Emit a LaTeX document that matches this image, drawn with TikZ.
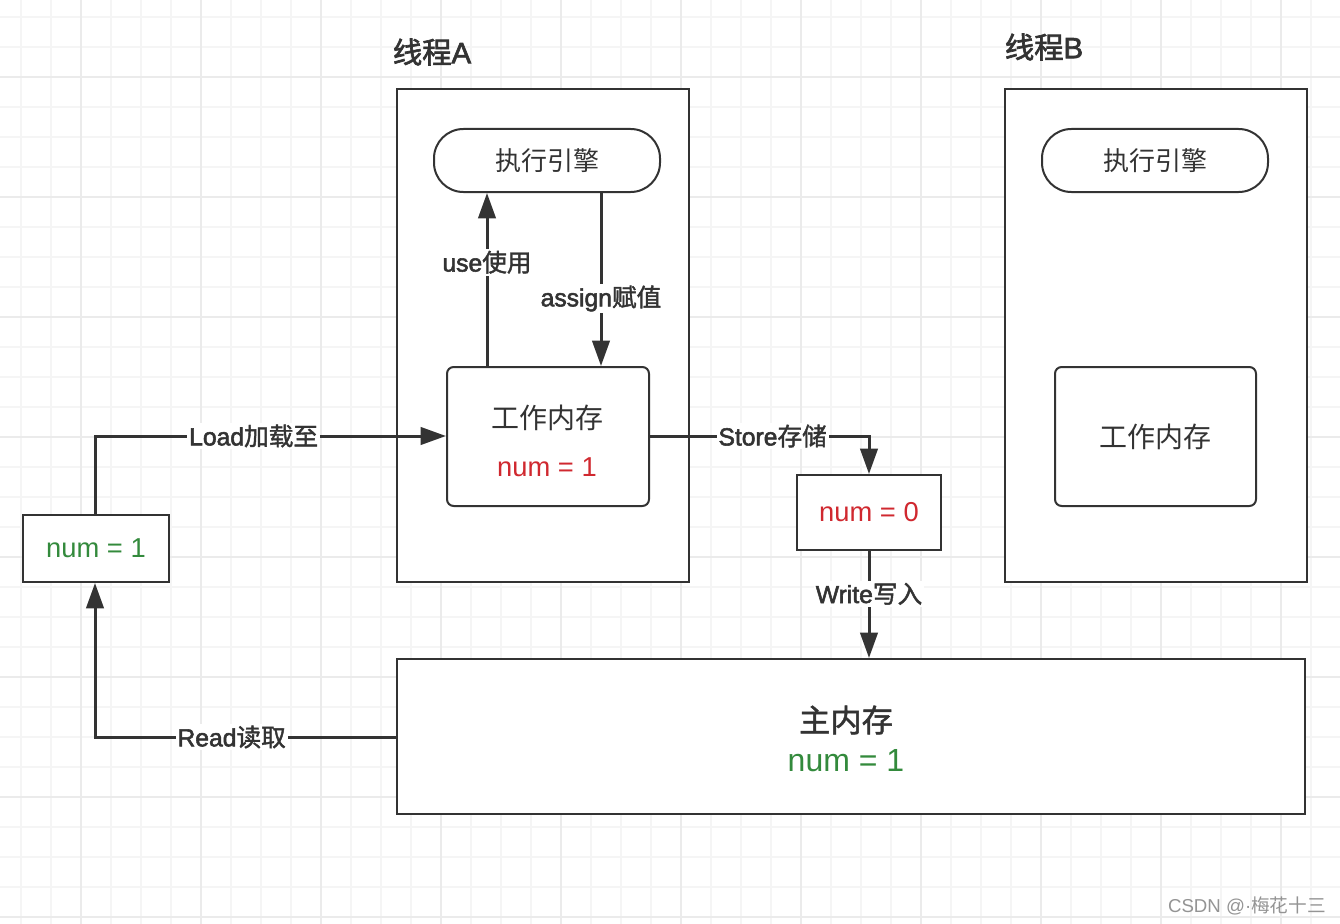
\documentclass[tikz,border=0pt]{standalone}
\usepackage{fontspec}
\setmainfont{Liberation Sans}
\newfontfamily\cjk{Noto Sans CJK SC}
\newfontfamily\latm{Liberation Sans}[FakeBold=2.2]
\newfontfamily\cjkm{Noto Sans CJK SC}[FakeBold=1.6]
\newfontfamily\cjkb{Noto Sans CJK SC}[FakeBold=2.2]
\newcommand{\lbl}[2]{{\latm #1}{\cjkm #2}}
\usetikzlibrary{arrows.meta}
\definecolor{ink}{HTML}{333333}
\definecolor{numred}{HTML}{D0282F}
\definecolor{numgreen}{HTML}{338A3C}
\definecolor{gridminor}{HTML}{F5F5F5}
\definecolor{gridmajor}{HTML}{EBEBEB}
\tikzset{
  box/.style={draw=ink, line width=1.5pt, fill=white, inner sep=0pt},
  conn/.style={draw=ink, line width=2.25pt, -{Triangle[length=19pt,width=13pt]}},
  elabel/.style={fill=white, inner sep=1.5pt, text=ink, font=\fontsize{18.5}{22}\selectfont},
  enginetext/.style={text=ink, font=\fontsize{19.5}{23}\selectfont\cjk},
  boxtext/.style={text=ink, font=\fontsize{21}{25}\selectfont\cjk},
  numtext/.style={font=\fontsize{20.5}{24}\selectfont},
  title/.style={text=ink, font=\fontsize{22}{26}\selectfont},
}
\begin{document}
\begin{tikzpicture}[x=0.75pt,y=-0.75pt]
\useasboundingbox (0,0) rectangle (1340,924);
\fill[white] (0,0) rectangle (1340,924);
% grid
\foreach \x in {21,51,...,1340} \draw[gridminor, line width=1pt] (\x,0) -- (\x,924);
\foreach \y in {17,47,...,924} \draw[gridminor, line width=1pt] (0,\y) -- (1340,\y);
\foreach \x in {81,201,...,1340} \draw[gridmajor, line width=1pt] (\x,0) -- (\x,924);
\foreach \y in {77,197,...,924} \draw[gridmajor, line width=1pt] (0,\y) -- (1340,\y);

% titles
\node[title] (tA) at (432,52) {{\cjkb 线程}{\latm A}};
\node[title] (tB) at (1044,47) {{\cjkb 线程}{\latm B}};

% thread boxes
\node[box, minimum width=219pt, minimum height=369.75pt] (thA) at (543,335.5) {};
\node[box, minimum width=226.5pt, minimum height=369.75pt] (thB) at (1156,335.5) {};

% engines
\node[box, rounded corners=22pt, minimum width=169.5pt, minimum height=47.25pt, enginetext] (engA) at (547,160.5) {执行引擎};
\node[box, rounded corners=22pt, minimum width=169.5pt, minimum height=47.25pt, enginetext] (engB) at (1155,160.5) {执行引擎};

% working memory
\node[box, rounded corners=5pt, minimum width=151.5pt, minimum height=104.25pt] (wmA) at (548,436.5) {};
\node[boxtext] (wmAt) at (547,417.5) {工作内存};
\node[text=numred, numtext] (wmAn) at (547,467) {num = 1};
\node[box, rounded corners=5pt, minimum width=150.75pt, minimum height=104.25pt, boxtext] (wmB) at (1155.5,436.5) {工作内存};

% num boxes
\node[box, minimum width=109.5pt, minimum height=50.25pt, text=numgreen, numtext] (n1) at (96,548.5) {num = 1};
\node[box, minimum width=108pt, minimum height=56.25pt, text=numred, numtext] (n0) at (869,512.5) {num = 0};

% main memory
\node[box, minimum width=681pt, minimum height=116.25pt] (main) at (851,736.5) {};
\node[text=ink, font=\fontsize{23.5}{28}\selectfont\cjkm] (mainT) at (846,720) {主内存};
\node[text=numgreen, font=\fontsize{24}{28}\selectfont] (mainN) at (846,761) {num = 1};

% helper coordinates
\coordinate (xuse) at (487,0);
\coordinate (xassign) at (601,0);
\coordinate (xleft) at (95,0);
\coordinate (xstore) at (869,0);
\coordinate (yread) at (0,737);
\coordinate (ymid) at (0,436);

% use
\draw[conn] (wmA.north -| xuse) -- (engA.south -| xuse)
  node[pos=0.6, elabel] {\lbl{use}{使用}};
% assign
\draw[conn] (engA.south -| xassign) -- (wmA.north -| xassign)
  node[pos=0.61, elabel] {\lbl{assign}{赋值}};
% load
\draw[conn] (n1.north -| xleft) |- (wmA.west |- ymid)
  node[pos=0.726, elabel] {\lbl{Load}{加载至}};
% store
\draw[conn] (wmA.east |- ymid) -| (n0.north -| xstore)
  node[pos=0.28, elabel] {\lbl{Store}{存储}};
% write
\draw[conn] (n0.south -| xstore) -- (main.north -| xstore)
  node[pos=0.4, elabel] {\lbl{Write}{写入}};
% read
\draw[conn] (main.west |- yread) -| (n1.south -| xleft)
  node[pos=0.273, elabel] {\lbl{Read}{读取}};

% watermark
\node[text=black!42, font=\fontsize{14}{17}\selectfont] (wm) at (1247,906) {CSDN @·{\cjk 梅花十三}};
\end{tikzpicture}
\end{document}
